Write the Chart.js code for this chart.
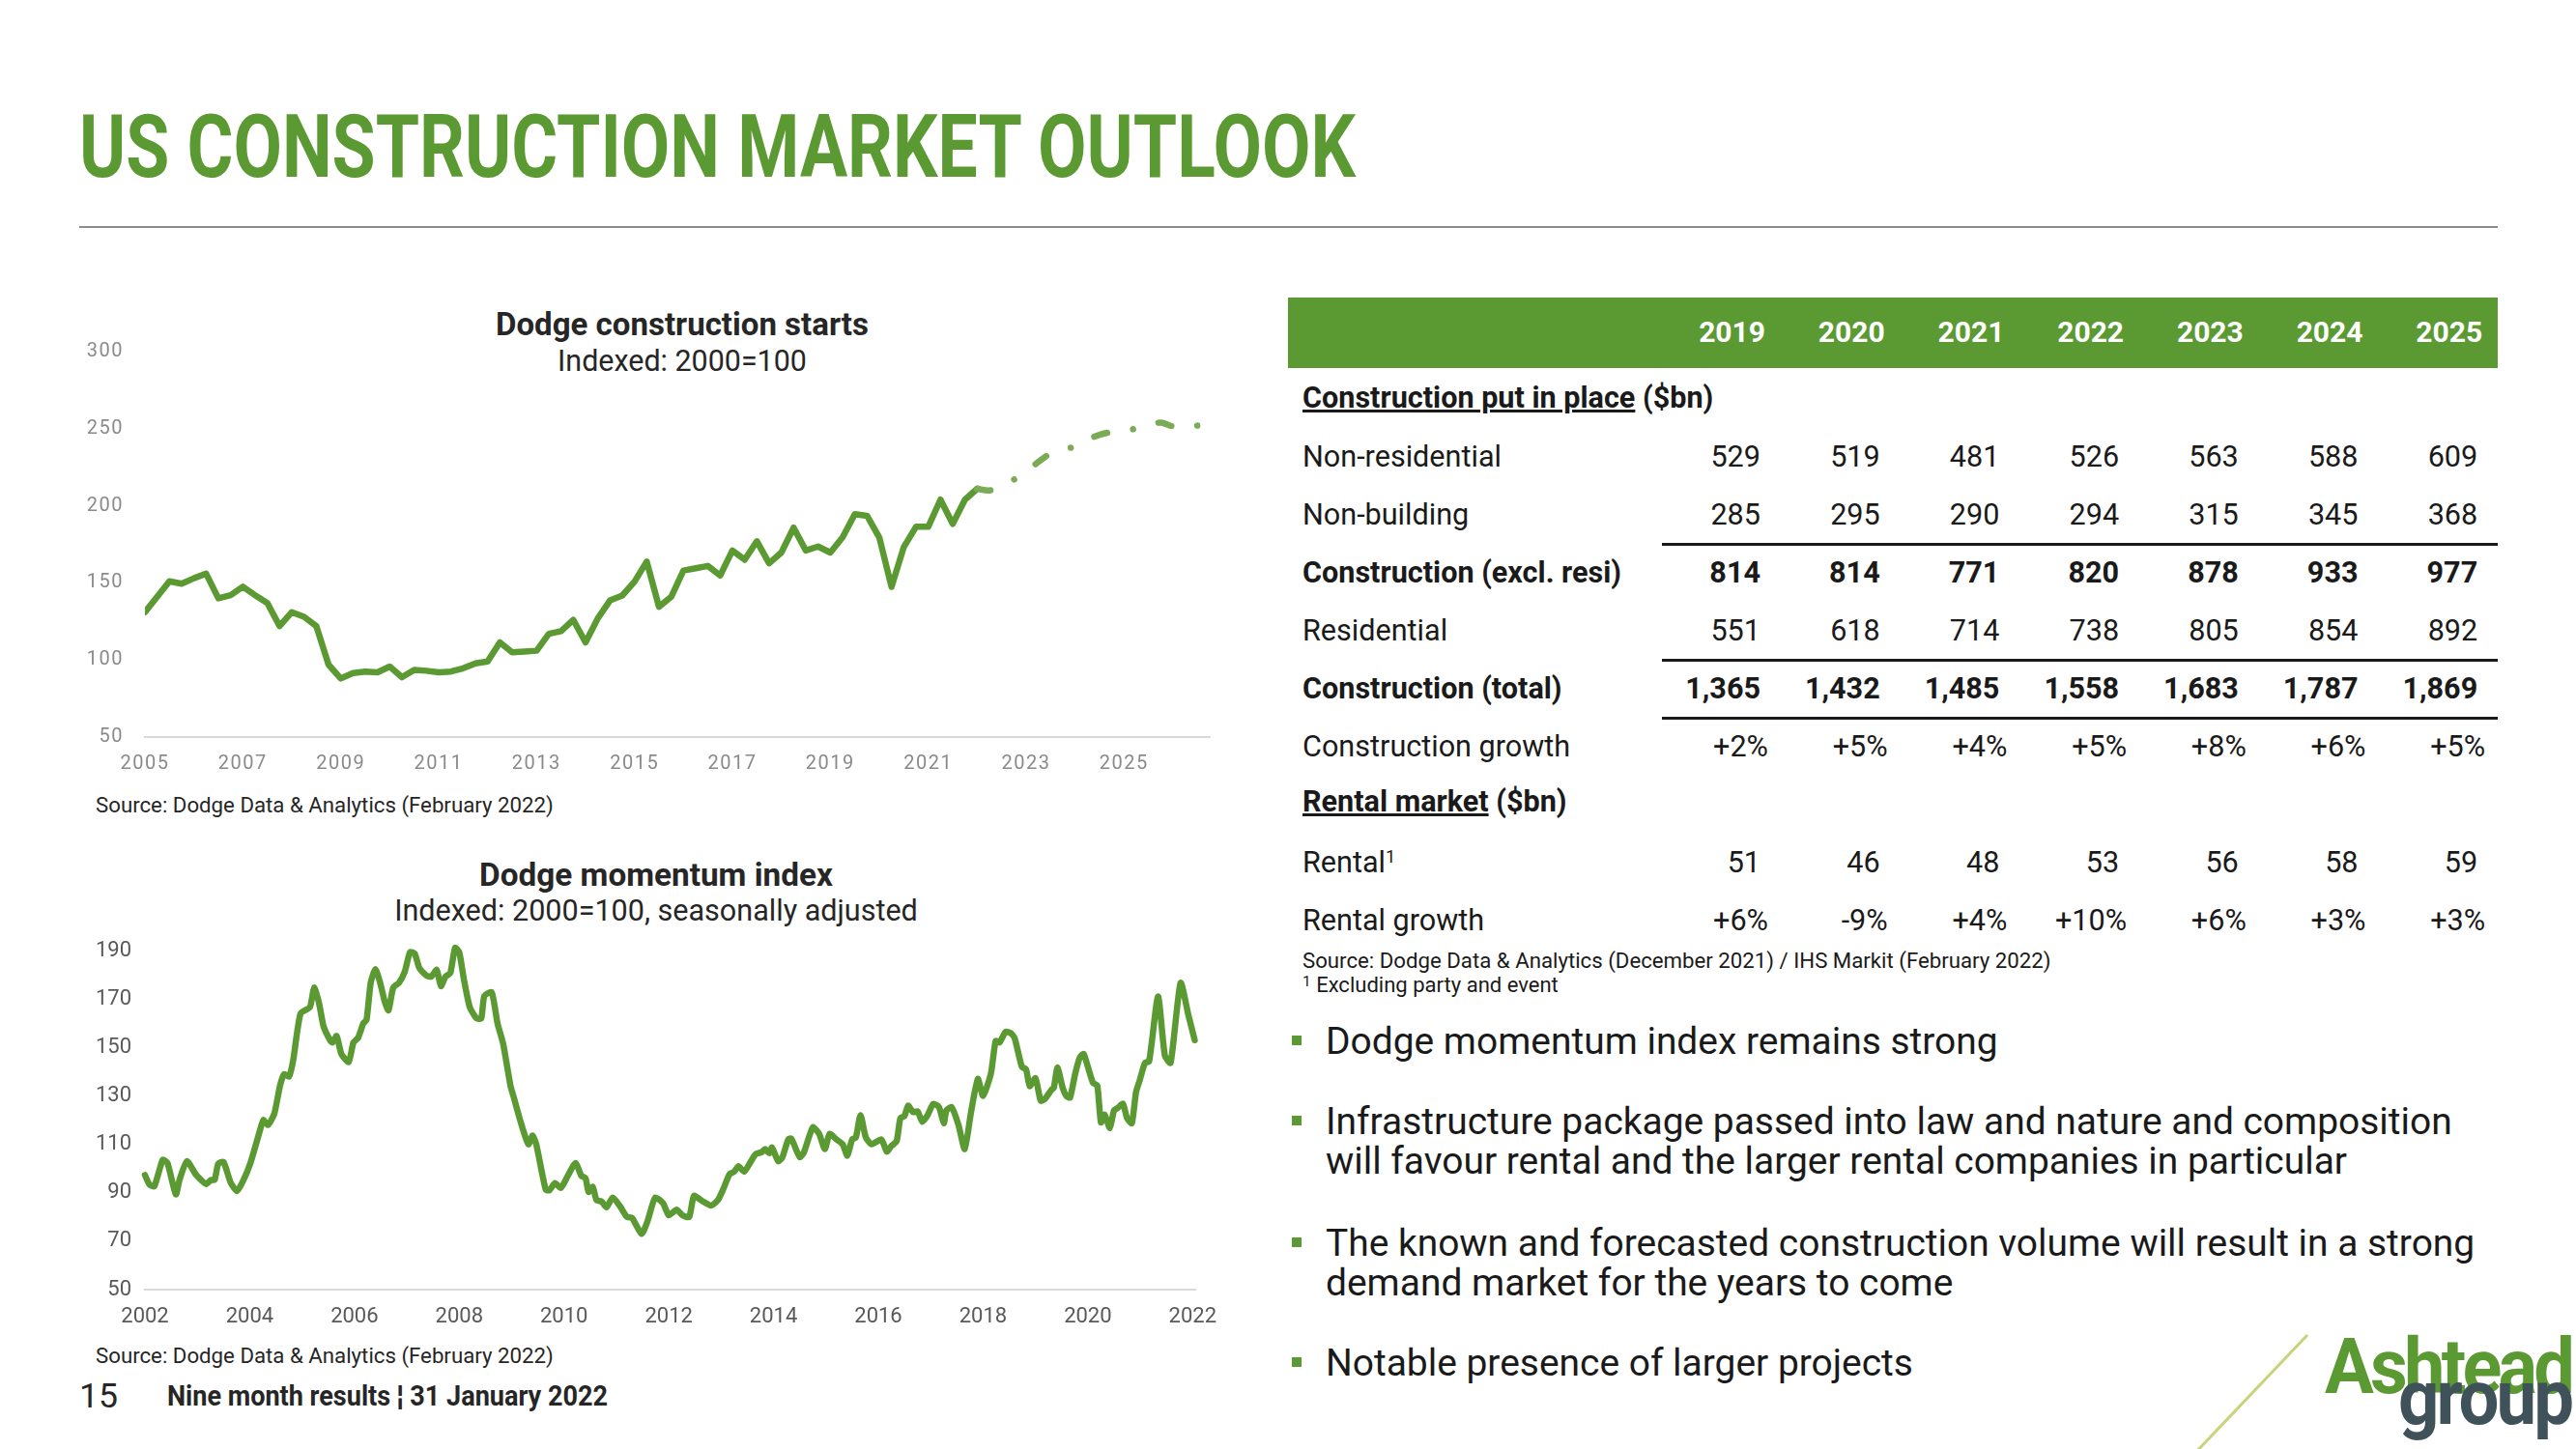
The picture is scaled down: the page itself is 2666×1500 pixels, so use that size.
<!DOCTYPE html>
<html>
<head>
<meta charset="utf-8">
<title>US construction market outlook</title>
<script src="https://cdn.jsdelivr.net/npm/chart.js@4.4.1/dist/chart.umd.min.js"></script>
<style>
  html, body { margin: 0; padding: 0; background: #fff; }
  body { position: relative; width: 2666px; height: 1500px; overflow: hidden; font-family: Roboto, "Open Sans", sans-serif; }
  .t { position: absolute; white-space: nowrap; line-height: 1; transform-origin: left top; }
  .box { position: absolute; }
  canvas { position: absolute; }
</style>
</head>
<body>
<script>
// Dodge construction starts, quarterly from 2005 Q1 (indexed 2000=100)
const startsActual = [131, 141, 151, 149.5, 153, 156, 140, 142, 147.5, 142, 137, 122,
  131, 128, 122, 97, 88, 91.5, 92.5, 92, 95.7, 88.8, 93.6, 93, 92, 92.5, 94.6, 97.8,
  99, 111.4, 105, 105.5, 106, 117, 118.7, 126, 111.4, 127, 138.6, 141.8,
  150.8, 163.8, 134.5, 141, 158, 159.5, 161, 154.8, 171, 165, 177, 162.7,
  169.7, 185.8, 171, 173.6, 169.7, 179.5, 194.6, 193.5, 179.5, 147.4, 173.2, 186.4,
  186.4, 204, 188.3, 204, 211]
// forecast, quarterly from 2022 Q1
const startsForecast = [211, 210, 212.5, 217, 222, 228.5, 234, 236.5, 238.5, 243, 246,
  248, 249, 250, 252, 254, 251.5, 251.5, 252]
const startsXTicks = [2005, 2007, 2009, 2011, 2013, 2015, 2017, 2019, 2021, 2023, 2025]
const startsYTicks = [50, 100, 150, 200, 250, 300]

// Dodge momentum index (decimal year / index value)
const momentumYears = [2002.00, 2002.09, 2002.18, 2002.34, 2002.43, 2002.59, 2002.66, 2002.80, 2002.98,
  2003.17, 2003.26, 2003.33, 2003.40, 2003.50, 2003.64, 2003.76, 2003.87, 2004.01, 2004.19, 2004.26,
  2004.35, 2004.47, 2004.58, 2004.66, 2004.75, 2004.83, 2004.97, 2005.15, 2005.23, 2005.32, 2005.41,
  2005.54, 2005.58, 2005.66, 2005.75, 2005.89, 2005.98, 2006.07, 2006.17, 2006.23, 2006.31, 2006.40,
  2006.49, 2006.58, 2006.65, 2006.74, 2006.85, 2006.96, 2007.06, 2007.15, 2007.24, 2007.38, 2007.47,
  2007.57, 2007.65, 2007.74, 2007.83, 2007.92, 2008.00, 2008.09, 2008.20, 2008.33, 2008.42, 2008.48,
  2008.62, 2008.73, 2008.84, 2008.98, 2009.05, 2009.18, 2009.32, 2009.40, 2009.47, 2009.65, 2009.72,
  2009.83, 2009.94, 2010.08, 2010.22, 2010.33, 2010.41, 2010.47, 2010.55, 2010.62, 2010.72, 2010.81,
  2010.93, 2011.07, 2011.20, 2011.30, 2011.48, 2011.59, 2011.74, 2011.89, 2012.00, 2012.15, 2012.26,
  2012.39, 2012.48, 2012.63, 2012.81, 2012.94, 2013.05, 2013.16, 2013.25, 2013.33, 2013.44, 2013.55,
  2013.66, 2013.77, 2013.84, 2013.92, 2013.97, 2014.09, 2014.17, 2014.28, 2014.34, 2014.50, 2014.58,
  2014.75, 2014.87, 2014.98, 2015.07, 2015.20, 2015.32, 2015.41, 2015.50, 2015.57, 2015.66, 2015.76,
  2015.87, 2016.06, 2016.16, 2016.25, 2016.35, 2016.42, 2016.50, 2016.57, 2016.66, 2016.75, 2016.84,
  2016.94, 2017.05, 2017.16, 2017.25, 2017.30, 2017.40, 2017.53, 2017.65, 2017.77, 2017.90, 2018.00,
  2018.15, 2018.24, 2018.31, 2018.43, 2018.52, 2018.60, 2018.74, 2018.82, 2018.89, 2019.00, 2019.10,
  2019.18, 2019.30, 2019.35, 2019.42, 2019.52, 2019.59, 2019.66, 2019.76, 2019.85, 2019.92, 2020.00,
  2020.10, 2020.18, 2020.25, 2020.32, 2020.42, 2020.50, 2020.57, 2020.67, 2020.75, 2020.84, 2020.92,
  2020.99, 2021.09, 2021.17, 2021.34, 2021.47, 2021.58, 2021.77, 2021.92, 2022.04]
const momentumValues = [97.3, 93.3, 92.7, 103.6, 102.3, 89.3, 95.3, 103, 97.3,
  93.6, 95.3, 95.3, 102, 102.7, 94, 90.7, 94.7, 102, 115.3, 120,
  118, 122.7, 134.3, 139, 138, 144.7, 164, 166.7, 174.7, 168.7, 158.7,
  152.7, 152, 154.7, 147.3, 144, 152, 154, 160, 161.3, 176.7, 182.3,
  176.7, 168.7, 165.3, 174.7, 176.7, 181.3, 189.3, 188.7, 182.7, 179.6, 179.3,
  182, 175.3, 179.3, 180.7, 191.1, 189.3, 178, 166.7, 162, 162, 171.3,
  172.7, 160, 151.3, 134, 128.7, 118.7, 110, 113.6, 110, 91.3, 91,
  94, 92, 97.3, 102.3, 97, 96, 90.3, 92.4, 87, 86.3, 84,
  88, 84.4, 80, 79.6, 73, 78, 88, 85.7, 80.7, 83, 80.7,
  80, 88.7, 86.7, 84.7, 87, 92, 97.7, 98.7, 101, 98.7, 102.3,
  106, 106.7, 108, 106.3, 108.7, 103, 104.7, 112, 112.3, 104.7, 106.7,
  117, 114.3, 108, 114.3, 112, 110, 105.3, 112, 112.7, 122, 113,
  110, 112, 107, 109.3, 111.3, 120.7, 121.7, 126, 123.3, 123.6, 119.3,
  122, 126.7, 125.3, 118.7, 124, 125.3, 118, 108, 123.3, 137, 130,
  139.3, 152.7, 152, 156.4, 156, 154, 142, 141, 134, 137.3, 128,
  128.7, 132.4, 133.3, 141.7, 133.3, 130, 129.3, 139.3, 146, 147.3, 142,
  135.3, 134.3, 119, 122.3, 116.7, 124, 125, 126.7, 120.7, 118.7, 131.6,
  136.4, 143.6, 144.3, 171, 146.7, 143.6, 176.7, 163.3, 153]
const momentumXTicks = [2002, 2004, 2006, 2008, 2010, 2012, 2014, 2016, 2018, 2020, 2022]
const momentumYTicks = [50, 70, 90, 110, 130, 150, 170, 190]

// table
const tableYears = ['2019', '2020', '2021', '2022', '2023', '2024', '2025']
const nonResidential = ['529', '519', '481', '526', '563', '588', '609']
const nonBuilding = ['285', '295', '290', '294', '315', '345', '368']
const constructionExResi = ['814', '814', '771', '820', '878', '933', '977']
const residential = ['551', '618', '714', '738', '805', '854', '892']
const constructionTotal = ['1,365', '1,432', '1,485', '1,558', '1,683', '1,787', '1,869']
const constructionGrowth = ['+2%', '+5%', '+4%', '+5%', '+8%', '+6%', '+5%']
const rental = ['51', '46', '48', '53', '56', '58', '59']
const rentalGrowth = ['+6%', '-9%', '+4%', '+10%', '+6%', '+3%', '+3%']

const bullets = [
  ['Dodge momentum index remains strong'],
  ['Infrastructure package passed into law and nature and composition', 'will favour rental and the larger rental companies in particular'],
  ['The known and forecasted construction volume will result in a strong', 'demand market for the years to come'],
  ['Notable presence of larger projects']
]

const green = '#5b9a32'
const lightGreen = '#7aab55'
const ink = '#1a1a1a'

// place a text line; cy = visual centre, fit width by font size or by horizontal squeeze
function put(html, o) {
  const d = document.createElement('div')
  d.className = 't'
  d.innerHTML = html
  let fs = o.fs
  d.style.fontSize = fs + 'px'
  d.style.fontWeight = o.bold ? '700' : '400'
  d.style.color = o.color || ink
  if (o.ls) d.style.letterSpacing = o.ls
  document.body.appendChild(d)
  let w = d.getBoundingClientRect().width
  if (o.w && o.fit === 'size') {
    fs = fs * o.w / w
    d.style.fontSize = fs + 'px'
    w = d.getBoundingClientRect().width
  } else if (o.w && o.fit === 'x') {
    d.style.transform = 'scaleX(' + (o.w / w) + ')'
    w = o.w
  }
  let left = o.x
  if (o.align === 'center') left = o.x - w / 2
  if (o.align === 'right') left = o.x - w
  d.style.left = left + 'px'
  d.style.top = (o.base !== undefined ? o.base - 0.8415 * fs : o.cy - 0.485 * fs) + 'px'
  return fs
}
function rect(x, y, w, h, color) {
  const d = document.createElement('div')
  d.className = 'box'
  d.style.cssText += `left:${x}px;top:${y}px;width:${w}px;height:${h}px;background:${color}`
  document.body.appendChild(d)
}

// header
put('US CONSTRUCTION MARKET OUTLOOK', { x: 82, cy: 151.5, fs: 91, bold: true, color: green, w: 1321, fit: 'x' })
rect(82, 234, 2503, 2, '#8c8c8c')

// chart titles and sources
put('Dodge construction starts', { x: 706, cy: 335, fs: 30, bold: true, color: '#262626', w: 386, fit: 'size', align: 'center' })
put('Indexed: 2000=100', { x: 706, cy: 374, fs: 28, color: '#262626', w: 258, fit: 'size', align: 'center' })
put('Source: Dodge Data &amp; Analytics (February 2022)', { x: 99, cy: 833, fs: 22, color: '#262626', w: 474, fit: 'size' })
put('Dodge momentum index', { x: 679, cy: 905, fs: 30, bold: true, color: '#262626', w: 366, fit: 'size', align: 'center' })
put('Indexed: 2000=100, seasonally adjusted', { x: 679, cy: 943, fs: 28, color: '#262626', w: 542, fit: 'size', align: 'center' })
put('Source: Dodge Data &amp; Analytics (February 2022)', { x: 99, cy: 1403, fs: 22, color: '#262626', w: 474, fit: 'size' })

// footer
put('15', { x: 82, cy: 1445, fs: 32, color: '#262626', w: 40, fit: 'size' })
put('Nine month results ¦ 31 January 2022', { x: 173, cy: 1445, fs: 29, bold: true, color: '#262626', w: 456, fit: 'x' })

// table
rect(1333, 308, 1252, 73, green)
const colRight = i => 1822 + i * 123.7
tableYears.forEach((y, i) => put(y, { x: colRight(i) + 5, cy: 344, fs: 30, bold: true, color: '#fff', align: 'right' }))
const tfs = put('Non-residential', { x: 1348, cy: 473, fs: 29, w: 206, fit: 'size' })
put('<u>Construction put in place</u> ($bn)', { x: 1348, cy: 412, fs: tfs, bold: true })
put('Non-building', { x: 1348, cy: 533, fs: tfs })
put('Construction (excl. resi)', { x: 1348, cy: 593, fs: tfs, bold: true })
put('Residential', { x: 1348, cy: 653, fs: tfs })
put('Construction (total)', { x: 1348, cy: 713, fs: tfs, bold: true })
put('Construction growth', { x: 1348, cy: 773, fs: tfs })
put('<u>Rental market</u> ($bn)', { x: 1348, cy: 830, fs: tfs, bold: true })
put('Rental<sup style="font-size:0.6em;vertical-align:0.55em">1</sup>', { x: 1348, cy: 893, fs: tfs })
put('Rental growth', { x: 1348, cy: 953, fs: tfs })
const tableRows = [
  [nonResidential, 473, false, 0], [nonBuilding, 533, false, 0], [constructionExResi, 593, true, 0],
  [residential, 653, false, 0], [constructionTotal, 713, true, 0], [constructionGrowth, 773, false, 8],
  [rental, 893, false, 0], [rentalGrowth, 953, false, 8]
]
tableRows.forEach(([vals, cy, bold, shift]) => {
  vals.forEach((v, i) => put(v, { x: colRight(i) + shift, cy: cy, fs: tfs, bold: bold, align: 'right' }))
})
rect(1720, 562, 865, 3, ink)
rect(1720, 682, 865, 3, ink)
rect(1720, 742, 865, 3, ink)
put('Source: Dodge Data &amp; Analytics (December 2021) / IHS Markit (February 2022)', { x: 1348, cy: 994, fs: 22, w: 775, fit: 'size' })
put('<sup style="font-size:0.7em;vertical-align:0.4em">1</sup> Excluding party and event', { x: 1348, cy: 1020, fs: 20, w: 265, fit: 'size' })

// bullets
const bfs = put(bullets[1][0], { x: 1372, cy: 1161, fs: 37, w: 1166, fit: 'size' })
const bulletY = [[1078], [1161, 1202], [1287, 1328], [1411]]
bullets.forEach((lines, b) => {
  rect(1337, bulletY[b][0] - 6, 10, 10, green)
  lines.forEach((line, k) => { if (!(b === 1 && k === 0)) put(line, { x: 1372, cy: bulletY[b][k], fs: bfs }) })
})

// logo
const logo = document.createElementNS('http://www.w3.org/2000/svg', 'svg')
logo.setAttribute('width', '2666'); logo.setAttribute('height', '1500')
logo.style.cssText = 'position:absolute;left:0;top:0'
logo.innerHTML = '<line x1="2388" y1="1382" x2="2271" y2="1505" stroke="#c9d37c" stroke-width="3"/>'
document.body.appendChild(logo)
put('Ashtead', { x: 2406, base: 1442, fs: 80, bold: true, color: green, ls: '-0.05em', w: 255, fit: 'x' })
put('group', { x: 2482, base: 1474, fs: 80, bold: true, color: '#3f5159', ls: '-0.04em', w: 179, fit: 'x' })

// charts
function makeCanvas(left, top, w, h) {
  const c = document.createElement('canvas')
  c.width = w; c.height = h
  c.style.cssText = `left:${left}px;top:${top}px;width:${w}px;height:${h}px`
  document.body.appendChild(c)
  return c
}
const spaced = {
  id: 'spaced',
  beforeDraw(chart) { chart.ctx.letterSpacing = '1.5px' },
  afterDraw(chart) { chart.ctx.letterSpacing = '0px' }
}

// chart area: x 150..1252, y 364..763
const startsChart = new Chart(makeCanvas(0, 324, 1272, 479), {
  type: 'line',
  data: {
    datasets: [{
      data: startsForecast.map((v, i) => ({ x: 2022 + i / 4, y: v })),
      borderColor: lightGreen, borderWidth: 6.5, borderDash: [14, 27, 0.01, 27],
      borderCapStyle: 'round', borderJoinStyle: 'round', pointRadius: 0, tension: 0.3
    }, {
      data: startsActual.map((v, i) => ({ x: 2005 + i / 4, y: v })),
      borderColor: green, borderWidth: 6.5, borderJoinStyle: 'round', borderCapStyle: 'round',
      pointRadius: 0, tension: 0
    }]
  },
  options: {
    responsive: false, animation: false, devicePixelRatio: 1,
    layout: { padding: { top: 40, right: 20, left: 0, bottom: 0 } },
    plugins: { legend: { display: false }, tooltip: { enabled: false } },
    scales: {
      x: {
        type: 'linear', min: 2005, max: 2026.75,
        afterBuildTicks: s => { s.ticks = startsXTicks.map(v => ({ value: v })) },
        afterFit: s => { s.height = 40 },
        ticks: { color: '#8a8a8a', font: { family: 'Roboto', size: 20 }, padding: 16, maxRotation: 0, autoSkip: false, callback: v => String(v) },
        grid: { display: false, drawTicks: false },
        border: { display: true, color: '#d9d9d9', width: 2 }
      },
      y: {
        min: 50, max: 300,
        afterBuildTicks: s => { s.ticks = startsYTicks.map(v => ({ value: v })) },
        afterFit: s => { s.width = 150 },
        ticks: { color: '#8a8a8a', font: { family: 'Roboto', size: 20 }, padding: 22, callback: v => String(v) },
        grid: { display: false, drawTicks: false },
        border: { display: false }
      }
    }
  },
  plugins: [spaced]
})

// chart area: x 150..1237, y 984..1335
const momentumChart = new Chart(makeCanvas(0, 944, 1280, 431), {
  type: 'line',
  data: {
    datasets: [{
      data: momentumYears.map((x, i) => ({ x: x, y: momentumValues[i] })),
      borderColor: green, borderWidth: 6.5, borderJoinStyle: 'round', borderCapStyle: 'round',
      pointRadius: 0, tension: 0.2, clip: false
    }]
  },
  options: {
    responsive: false, animation: false, devicePixelRatio: 1,
    layout: { padding: { top: 40, right: 43, left: 0, bottom: 0 } },
    plugins: { legend: { display: false }, tooltip: { enabled: false } },
    scales: {
      x: {
        type: 'linear', min: 2002, max: 2022.05,
        afterBuildTicks: s => { s.ticks = momentumXTicks.map(v => ({ value: v })) },
        afterFit: s => { s.height = 40 },
        ticks: { color: '#595959', font: { family: 'Roboto', size: 22 }, padding: 15, maxRotation: 0, autoSkip: false, callback: v => String(v) },
        grid: { display: false, drawTicks: false },
        border: { display: true, color: '#d9d9d9', width: 2 }
      },
      y: {
        min: 50, max: 190,
        afterBuildTicks: s => { s.ticks = momentumYTicks.map(v => ({ value: v })) },
        afterFit: s => { s.width = 150 },
        ticks: { color: '#595959', font: { family: 'Roboto', size: 22 }, padding: 14, callback: v => String(v) },
        grid: { display: false, drawTicks: false },
        border: { display: false }
      }
    }
  }
})
</script>
</body>
</html>
